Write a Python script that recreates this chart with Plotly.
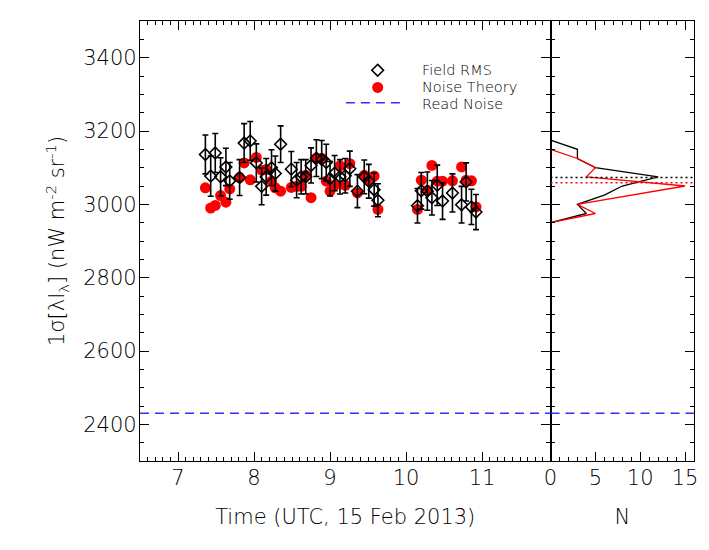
import plotly.graph_objects as go

# observation times (hours UTC, 15 Feb 2013)
times = [7.36, 7.43, 7.49, 7.56, 7.63, 7.68, 7.81, 7.87, 7.95, 8.03,
         8.10, 8.16, 8.23, 8.28, 8.35, 8.49, 8.56, 8.62, 8.68, 8.75,
         8.82, 8.89, 8.95, 9.00, 9.06, 9.13, 9.20, 9.26, 9.36, 9.45,
         9.51, 9.58, 9.63, 10.15, 10.20, 10.28, 10.34, 10.41, 10.48, 10.61,
         10.73, 10.79, 10.86, 10.92]

field_rms = [3136, 3077, 3140, 3075, 3102, 3064, 3073, 3167, 3173, 3113,
             3049, 3075, 3100, 3084, 3164, 3096, 3066, 3075, 3075, 3106,
             3126, 3122, 3114, 3070, 3085, 3075, 3078, 3097, 3036, 3075,
             3063, 3040, 3011, 2996, 3037, 3036, 3018, 3052, 3009, 3031,
             2999, 3061, 2993, 2979]

field_err = [53, 55, 53, 52, 51, 50, 49, 53, 53, 52,
             50, 50, 49, 48, 50, 48, 48, 47, 47, 48,
             50, 52, 50, 47, 48, 47, 47, 48, 45, 46,
             46, 45, 45, 47, 50, 52, 47, 55, 50, 52,
             50, 52, 48, 48]

noise_theory = [3045, 2990, 2997, 3024, 3006, 3042, 3073, 3113, 3067, 3128,
                3093, 3095, 3063, 3045, 3036, 3046, 3049, 3049, 3079, 3018,
                3126, 3126, 3063, 3036, 3052, 3105, 3052, 3111, 3031, 3079,
                3066, 3077, 2986, 2986, 3066, 3038, 3106, 3063, 3063, 3064,
                3102, 3066, 3064, 2993]

read_noise = 2430

# histograms (sigma bin centre, counts)
field_bins = [2950, 2975, 3000, 3025, 3050, 3075, 3100, 3125, 3150, 3175]
field_counts = [0, 4, 3, 6, 8, 12, 5, 3, 3, 0]
theory_bins = [2950, 2975, 3000, 3025, 3050, 3075, 3100, 3125, 3150]
theory_counts = [0, 5, 3, 9, 15, 4, 5, 3, 0]
field_mean = 3073
theory_mean = 3059

FONT = "DejaVu Sans"
split = 0.741
BLUE = "#3030ff"

fig = go.Figure()

# left panel
fig.add_trace(go.Scatter(x=times, y=noise_theory, mode="markers",
                         marker=dict(color="red", size=11, symbol="circle"),
                         xaxis="x", yaxis="y", showlegend=False))
fig.add_trace(go.Scatter(x=times, y=field_rms, mode="markers",
                         error_y=dict(type="data", array=field_err, color="black",
                                      thickness=1.6, width=3),
                         marker=dict(symbol="diamond-open", size=9, color="black",
                                     line=dict(width=1.6)),
                         xaxis="x", yaxis="y", showlegend=False))
fig.add_trace(go.Scatter(x=[6.5, 11.9], y=[read_noise, read_noise], mode="lines",
                         line=dict(color=BLUE, width=1.5, dash="9px,6px"),
                         xaxis="x", yaxis="y", showlegend=False))

# right panel
fig.add_trace(go.Scatter(x=field_counts, y=field_bins, mode="lines",
                         line=dict(color="black", width=1.3),
                         xaxis="x2", yaxis="y2", showlegend=False))
fig.add_trace(go.Scatter(x=theory_counts, y=theory_bins, mode="lines",
                         line=dict(color="red", width=1.3),
                         xaxis="x2", yaxis="y2", showlegend=False))
fig.add_trace(go.Scatter(x=[0, 16], y=[field_mean, field_mean], mode="lines",
                         line=dict(color="black", width=1.5, dash="2px,3px"),
                         xaxis="x2", yaxis="y2", showlegend=False))
fig.add_trace(go.Scatter(x=[0, 16], y=[theory_mean, theory_mean], mode="lines",
                         line=dict(color="red", width=1.5, dash="2px,3px"),
                         xaxis="x2", yaxis="y2", showlegend=False))
fig.add_trace(go.Scatter(x=[0, 16], y=[read_noise, read_noise], mode="lines",
                         line=dict(color=BLUE, width=1.5, dash="9px,6px"),
                         xaxis="x2", yaxis="y2", showlegend=False))

# hand-made legend on a hidden overlay axis
fig.add_trace(go.Scatter(x=[0.579], y=[0.888], mode="markers",
                         marker=dict(symbol="diamond-open", size=9, color="black",
                                     line=dict(width=1.6)),
                         xaxis="x3", yaxis="y3", showlegend=False))
fig.add_trace(go.Scatter(x=[0.579], y=[0.849], mode="markers",
                         marker=dict(color="red", size=11),
                         xaxis="x3", yaxis="y3", showlegend=False))
fig.add_trace(go.Scatter(x=[0.5016, 0.633], y=[0.814, 0.814], mode="lines",
                         line=dict(color=BLUE, width=1.5, dash="9px,6px"),
                         xaxis="x3", yaxis="y3", showlegend=False))
for txt, yy in [("Field RMS", 0.888), ("Noise Theory", 0.849), ("Read Noise", 0.812)]:
    fig.add_annotation(x=0.682, y=yy, xref="x3", yref="y3", text=txt,
                       showarrow=False, xanchor="left", yanchor="middle",
                       font=dict(family=FONT, size=14.5, color="black", weight=200))

tfont = dict(family=FONT, size=21, color="black", weight=200)
minor_style = dict(ticks="inside", ticklen=4, tickcolor="black", tickwidth=1.2)
axis_common = dict(showline=True, linecolor="black", linewidth=1.2, mirror="allticks",
                   ticks="inside", tickcolor="black", tickwidth=1.2, ticklen=9,
                   showgrid=False, zeroline=False, automargin=False,
                   tickfont=tfont)

# page body adds an 8px offset, so the figure is 8px smaller than the window
fig.update_layout(
    width=701, height=542,
    margin=dict(l=132, r=15, t=13, b=89),
    plot_bgcolor="white", paper_bgcolor="white",
    xaxis=dict(axis_common, domain=[0, split], range=[6.5, 11.9], dtick=1, tick0=0,
               anchor="y", ticklabelstandoff=-2,
               minor=dict(minor_style, dtick=0.1),
               title=dict(text="Time (UTC, 15 Feb 2013)", standoff=20, font=tfont)),
    yaxis=dict(axis_common, range=[2300, 3500], dtick=200, tick0=0, anchor="x",
               ticklabelstandoff=-2,
               minor=dict(minor_style, dtick=50),
               title=dict(text="1σ[λI<sub>λ</sub>] (nW m<sup>-2</sup> sr<sup>-1</sup>)",
                          standoff=12, font=tfont)),
    xaxis2=dict(axis_common, domain=[split, 1], range=[0, 16], dtick=5, tick0=0,
                anchor="y2", ticklabelstandoff=-2,
                minor=dict(minor_style, dtick=1),
                title=dict(text="N", standoff=20, font=tfont)),
    yaxis2=dict(axis_common, range=[2300, 3500], dtick=200, tick0=0, anchor="x2",
                showticklabels=False,
                minor=dict(minor_style, dtick=50)),
    xaxis3=dict(range=[0, 1], visible=False, anchor="y3", overlaying="x"),
    yaxis3=dict(range=[0, 1], visible=False, anchor="x3", overlaying="y"),
)

fig.write_html("out.html")
